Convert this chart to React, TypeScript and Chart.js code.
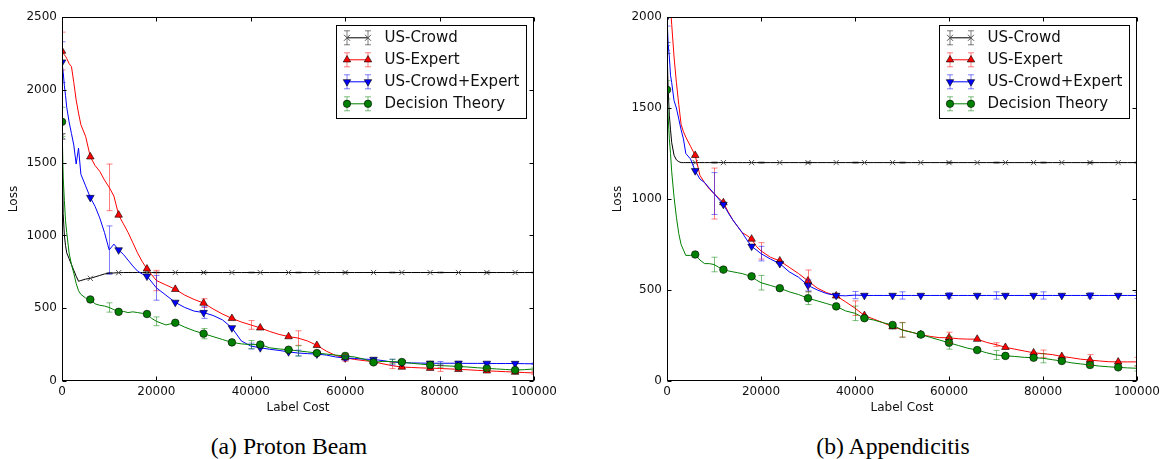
import React, { useEffect, useRef } from 'react';
import { Chart, registerables } from 'chart.js';

Chart.register(...registerables);
Chart.defaults.font.family = "'DejaVu Sans', 'Bitstream Vera Sans', sans-serif";
Chart.defaults.color = '#111';

// ---------- shared x grid (label cost) ----------
const costs = [
  0, 250, 500, 750, 1000, 1500, 2000, 2500, 3000, 3500, 4000,
  5000, 6000, 7000, 8000, 9000, 10000, 11000, 12000, 13000, 14000, 15000, 16000, 17000, 18000, 19000, 20000,
  22000, 24000, 26000, 28000, 30000, 32000, 34000, 36000, 38000, 40000,
  42000, 44000, 46000, 48000, 50000, 52000, 54000, 56000, 58000, 60000,
  62000, 64000, 66000, 68000, 70000, 72000, 74000, 76000, 78000, 80000,
  82000, 84000, 86000, 88000, 90000, 92000, 94000, 96000, 98000, 100000,
];
const markerCosts = [0, 6000, 12000, 18000, 24000, 30000, 36000, 42000, 48000, 54000, 60000, 66000, 72000, 78000, 84000, 90000, 96000];
const errorCosts = [0, 10000, 20000, 30000, 40000, 50000, 60000, 70000, 80000, 90000, 100000];
const seriesLabels = ['US-Crowd', 'US-Expert', 'US-Crowd+Expert', 'Decision Theory'];

// ---------- (a) Proton Beam ----------
const pbCrowd = [
  1680, 1150, 1000, 930, 880, 840, 800, 760, 720, 685, 690,
  700, 705, 715, 725, 735, 740, 742, 744, 745, 745, 745, 745, 745, 745, 745, 745,
  745, 745, 745, 745, 745, 745, 745, 745, 745, 745,
  745, 745, 745, 745, 745, 745, 745, 745, 745, 745,
  745, 745, 745, 745, 745, 745, 745, 745, 745, 745,
  745, 745, 745, 745, 745, 745, 745, 745, 745, 745,
];
const pbExpert = [
  2266, 2255, 2240, 2230, 2215, 2180, 2160, 2050, 1930, 1840, 1760,
  1680, 1540, 1480, 1440, 1380, 1330, 1270, 1140, 1080, 1020, 950, 880, 820, 770, 730, 690,
  660, 630, 590, 560, 535, 495, 460, 430, 405, 385,
  365, 340, 320, 305, 295, 275, 245, 205, 175, 160,
  148, 140, 133, 118, 105, 96, 93, 90, 88, 86,
  83, 80, 77, 73, 70, 67, 64, 61, 58, 55,
];
const pbBoth = [
  2190, 2120, 2030, 1960, 1880, 1780, 1700, 1620, 1490, 1600, 1420,
  1340, 1260, 1200, 1120, 1020, 900, 940, 900, 870, 830, 790, 755, 735, 720, 680, 640,
  590, 540, 505, 480, 470, 450, 420, 365, 275, 240,
  228, 218, 210, 200, 192, 188, 185, 178, 165, 158,
  155, 150, 148, 140, 130, 126, 124, 123, 122, 122,
  122, 122, 121, 121, 121, 120, 120, 120, 119, 118,
];
const pbDecision = [
  1780, 1400, 1240, 1100, 1020, 880, 800, 740, 670, 620, 595,
  570, 560, 530, 520, 515, 505, 490, 475, 478, 470, 475, 470, 465, 460, 430, 410,
  385, 400, 370, 345, 325, 305, 285, 265, 255, 250,
  250, 228, 220, 215, 207, 200, 192, 185, 178, 172,
  165, 150, 128, 135, 133, 130, 122, 116, 110, 106,
  103, 100, 96, 91, 87, 83, 79, 75, 78, 83,
];
const pbCrowdErr = [20, 5, 3, 3, 3, 3, 3, 3, 3, 3, 3];
const pbExpertErr = [130, 160, 70, 30, 30, 50, 25, 20, 20, 10, 10];
const pbBothErr = [140, 165, 85, 40, 20, 20, 15, 20, 12, 10, 5];
const pbDecisionErr = [100, 32, 30, 35, 28, 35, 20, 15, 12, 12, 12];

// ---------- (b) Appendicitis ----------
const apCrowd = [
  1830, 1600, 1460, 1380, 1310, 1240, 1215, 1205, 1200, 1200, 1200,
  1200, 1200, 1200, 1200, 1200, 1200, 1200, 1200, 1200, 1200, 1200, 1200, 1200, 1200, 1200, 1200,
  1200, 1200, 1200, 1200, 1200, 1200, 1200, 1200, 1200, 1200,
  1200, 1200, 1200, 1200, 1200, 1200, 1200, 1200, 1200, 1200,
  1200, 1200, 1200, 1200, 1200, 1200, 1200, 1200, 1200, 1200,
  1200, 1200, 1200, 1200, 1200, 1200, 1200, 1200, 1200, 1200,
];
const apExpert = [
  2350, 2250, 2150, 2050, 1960, 1780, 1640, 1520, 1410, 1370, 1340,
  1290, 1240, 1130, 1090, 1055, 1030, 1005, 980, 930, 885, 850, 815, 800, 780, 740, 715,
  680, 660, 625, 590, 550, 510, 485, 468, 435, 400,
  360, 340, 320, 298, 282, 268, 255, 245, 238, 238,
  232, 230, 230, 212, 200, 185, 175, 165, 155, 150,
  145, 135, 128, 120, 115, 110, 106, 105, 105, 105,
];
const apBoth = [
  2000, 1850, 1780, 1680, 1640, 1540, 1500, 1440, 1380, 1330, 1250,
  1220, 1155, 1110, 1090, 1060, 1030, 1000, 970, 925, 885, 850, 815, 775, 740, 720, 700,
  670, 645, 600, 570, 525, 500, 480, 470, 468, 472,
  470, 470, 470, 470, 470, 470, 470, 470, 470, 470,
  470, 470, 470, 470, 470, 470, 470, 470, 470, 470,
  470, 470, 470, 470, 470, 470, 470, 470, 470, 470,
];
const apDecision = [
  1600, 1450, 1330, 1250, 1150, 1010, 900, 810, 750, 720, 690,
  690, 695, 665, 645, 645, 640, 625, 612, 605, 600, 595, 590, 582, 575, 555, 540,
  525, 510, 490, 475, 455, 440, 425, 410, 385, 372,
  345, 335, 320, 308, 280, 268, 255, 240, 225, 210,
  195, 180, 170, 155, 143, 138, 135, 130, 128, 125,
  117, 110, 100, 94, 88, 82, 78, 75, 72, 70,
];
const apCrowdErr = [30, 3, 3, 3, 3, 3, 3, 3, 3, 3, 3];
const apExpertErr = [0, 140, 45, 60, 40, 40, 30, 10, 20, 30, 25];
const apBothErr = [50, 115, 40, 30, 20, 20, 15, 20, 20, 15, 17];
const apDecisionErr = [50, 40, 40, 35, 40, 40, 35, 25, 25, 15, 15];

type Marker = 'x' | 'up' | 'down' | 'circle';
type Series = { label: string; values: number[]; errors: number[]; color: string; errColor: string; marker: Marker };

const styles: { color: string; errColor: string; marker: Marker }[] = [
  { color: '#000000', errColor: 'rgba(0,0,0,0.5)', marker: 'x' },
  { color: '#ff0000', errColor: 'rgba(255,0,0,0.5)', marker: 'up' },
  { color: '#0000ff', errColor: 'rgba(0,0,255,0.5)', marker: 'down' },
  { color: '#008000', errColor: 'rgba(0,128,0,0.5)', marker: 'circle' },
];

function buildSeries(values: number[][], errors: number[][]): Series[] {
  return values.map((v, i) => ({ label: seriesLabels[i], values: v, errors: errors[i], ...styles[i] }));
}

const markerSet = new Set(markerCosts);

function drawMarker(ctx: CanvasRenderingContext2D, kind: Marker, x: number, y: number, color: string) {
  ctx.save();
  ctx.beginPath();
  if (kind === 'x') {
    const r = 3;
    ctx.strokeStyle = '#555';
    ctx.lineWidth = 1;
    ctx.moveTo(x - r, y - r); ctx.lineTo(x + r, y + r);
    ctx.moveTo(x - r, y + r); ctx.lineTo(x + r, y - r);
    ctx.stroke();
  } else {
    ctx.fillStyle = color;
    ctx.strokeStyle = '#000';
    ctx.lineWidth = 0.6;
    if (kind === 'circle') {
      ctx.arc(x, y, 3.7, 0, Math.PI * 2);
    } else {
      const r = 4.3;
      const s = kind === 'up' ? 1 : -1;
      ctx.moveTo(x, y - s * r);
      ctx.lineTo(x + 0.866 * r, y + s * r / 2);
      ctx.lineTo(x - 0.866 * r, y + s * r / 2);
      ctx.closePath();
    }
    ctx.fill();
    ctx.stroke();
  }
  ctx.restore();
}

type ChartProps = { series: Series[]; yMax: number; left: number; yAxisWidth: number; padRight: number; lossPad: number };

function LossChart({ series, yMax, left, yAxisWidth, padRight, lossPad }: ChartProps) {
  const ref = useRef<HTMLCanvasElement>(null);
  useEffect(() => {
    const decor = {
      id: 'decor',
      afterDatasetsDraw(chart: any) {
        const { ctx, chartArea: a, scales } = chart;
        const xs = scales.x;
        const ys = scales.y;
        // error bars
        ctx.save();
        ctx.beginPath();
        ctx.rect(a.left, a.top, a.right - a.left, a.bottom - a.top);
        ctx.clip();
        series.forEach((s) => {
          ctx.strokeStyle = s.errColor;
          ctx.lineWidth = 1;
          errorCosts.forEach((c, k) => {
            const idx = costs.indexOf(c);
            const v = s.values[idx];
            const e = s.errors[k];
            if (!e) return;
            const x = Math.round(xs.getPixelForValue(c)) + 0.5;
            const y1 = ys.getPixelForValue(v + e);
            const y2 = ys.getPixelForValue(v - e);
            ctx.beginPath();
            ctx.moveTo(x, y1); ctx.lineTo(x, y2);
            ctx.moveTo(x - 3, y1); ctx.lineTo(x + 3, y1);
            ctx.moveTo(x - 3, y2); ctx.lineTo(x + 3, y2);
            ctx.stroke();
          });
        });
        ctx.restore();

        // frame and inward ticks
        ctx.save();
        ctx.strokeStyle = '#000';
        ctx.lineWidth = 1;
        const L = Math.round(a.left) + 0.5, R = Math.round(a.right) - 0.5;
        const T = Math.round(a.top) + 0.5, B = Math.round(a.bottom) - 0.5;
        ctx.strokeRect(L, T, R - L, B - T);
        ctx.beginPath();
        xs.ticks.forEach((t: any) => {
          const x = Math.round(xs.getPixelForValue(t.value)) + 0.5;
          ctx.moveTo(x, B); ctx.lineTo(x, B - 4);
          ctx.moveTo(x, T); ctx.lineTo(x, T + 4);
        });
        ys.ticks.forEach((t: any) => {
          const y = Math.round(ys.getPixelForValue(t.value)) + 0.5;
          ctx.moveTo(L, y); ctx.lineTo(L + 4, y);
          ctx.moveTo(R, y); ctx.lineTo(R - 4, y);
        });
        ctx.stroke();

        // legend
        const bw = 190, bh = 93;
        const bx = Math.round(a.right) - 8 - bw + 0.5;
        const by = Math.round(a.top) + 8 + 0.5;
        ctx.fillStyle = '#fff';
        ctx.fillRect(bx, by, bw, bh);
        ctx.strokeStyle = '#000';
        ctx.strokeRect(bx, by, bw, bh);
        ctx.font = "15px 'DejaVu Sans', sans-serif";
        ctx.textBaseline = 'middle';
        ctx.textAlign = 'left';
        series.forEach((s, i) => {
          const y = by + 12.3 + i * 22;
          const x1 = bx + 10.5, x2 = bx + 31.5;
          ctx.strokeStyle = s.color;
          ctx.lineWidth = 1;
          ctx.beginPath();
          ctx.moveTo(x1, y); ctx.lineTo(x2, y);
          ctx.stroke();
          ctx.strokeStyle = s.errColor;
          ctx.beginPath();
          [x1, x2].forEach((x) => {
            ctx.moveTo(x, y - 7); ctx.lineTo(x, y + 7);
            ctx.moveTo(x - 3, y - 7); ctx.lineTo(x + 3, y - 7);
            ctx.moveTo(x - 3, y + 7); ctx.lineTo(x + 3, y + 7);
          });
          ctx.stroke();
          drawMarker(ctx, s.marker, x1, y, s.color);
          drawMarker(ctx, s.marker, x2, y, s.color);
          ctx.fillStyle = '#111';
          ctx.fillText(s.label, bx + 48, y + 0.5);
        });
        ctx.restore();
      },
    };

    const datasets = series.map((s, i) => ({
      label: s.label,
      data: costs.map((c, k) => ({ x: c, y: s.values[k] })),
      borderColor: s.color,
      backgroundColor: s.color,
      borderWidth: 1,
      tension: 0,
      order: 3 - i,
      pointRadius: (ctx: any) => (markerSet.has(costs[ctx.dataIndex]) ? (s.marker === 'circle' ? 3.8 : s.marker === 'x' ? 3.7 : 4.4) : 0),
      pointStyle: s.marker === 'x' ? 'crossRot' : s.marker === 'circle' ? 'circle' : 'triangle',
      pointRotation: s.marker === 'down' ? 180 : 0,
      pointBackgroundColor: s.color,
      pointBorderColor: s.marker === 'x' ? '#555' : '#000',
      pointBorderWidth: s.marker === 'x' ? 1 : 0.6,
    }));

    const chart = new Chart(ref.current as HTMLCanvasElement, {
      type: 'line',
      data: { datasets } as any,
      options: {
        animation: false,
        responsive: false,
        events: [],
        layout: { padding: { left: 0, right: padRight, top: 17, bottom: 0 } },
        plugins: { legend: { display: false }, tooltip: { enabled: false } },
        scales: {
          x: {
            type: 'linear',
            min: 0,
            max: 100000,
            ticks: { stepSize: 20000, callback: (v: any) => String(v), padding: 4, font: { size: 12 }, color: '#111', maxRotation: 0, autoSkip: false },
            grid: { display: false, drawTicks: false },
            border: { display: false },
            title: { display: true, text: 'Label Cost', font: { size: 12 }, color: '#111', padding: { top: 0, bottom: 4.8 } },
            afterFit: (s: any) => { s.height = 39; s.paddingLeft = 0; s.paddingRight = 0; },
          },
          y: {
            type: 'linear',
            min: 0,
            max: yMax,
            ticks: { stepSize: 500, callback: (v: any) => String(v), padding: 5, font: { size: 12 }, color: '#111' },
            grid: { display: false, drawTicks: false },
            border: { display: false },
            title: { display: true, text: 'Loss', font: { size: 12 }, color: '#111', padding: { top: lossPad, bottom: 0 } },
            afterFit: (s: any) => { s.width = yAxisWidth; s.paddingTop = 0; s.paddingBottom = 0; },
          },
        },
      } as any,
      plugins: [decor],
    });
    return () => chart.destroy();
  }, []);
  return <canvas ref={ref} width={560} height={420} style={{ position: 'absolute', left, top: 0, width: 560, height: 420 }} />;
}

const protonSeries = buildSeries([pbCrowd, pbExpert, pbBoth, pbDecision], [pbCrowdErr, pbExpertErr, pbBothErr, pbDecisionErr]);
const appendSeries = buildSeries([apCrowd, apExpert, apBoth, apDecision], [apCrowdErr, apExpertErr, apBothErr, apDecisionErr]);

const captionStyle: React.CSSProperties = {
  position: 'absolute',
  top: 435,
  width: 400,
  textAlign: 'center',
  fontFamily: "'Liberation Serif', 'Times New Roman', serif",
  fontSize: 23.7,
  lineHeight: 1,
  color: '#000',
  whiteSpace: 'nowrap',
};

export default function App() {
  return (
    <div style={{ position: 'fixed', left: 0, top: 0, width: 1160, height: 459, background: '#fff', overflow: 'hidden' }}>
      <LossChart series={protonSeries} yMax={2500} left={0} yAxisWidth={62} padRight={26} lossPad={7} />
      <LossChart series={appendSeries} yMax={2000} left={600} yAxisWidth={67} padRight={23} lossPad={11} />
      <div style={{ ...captionStyle, left: 89 }}>(a) Proton Beam</div>
      <div style={{ ...captionStyle, left: 693 }}>(b) Appendicitis</div>
    </div>
  );
}
